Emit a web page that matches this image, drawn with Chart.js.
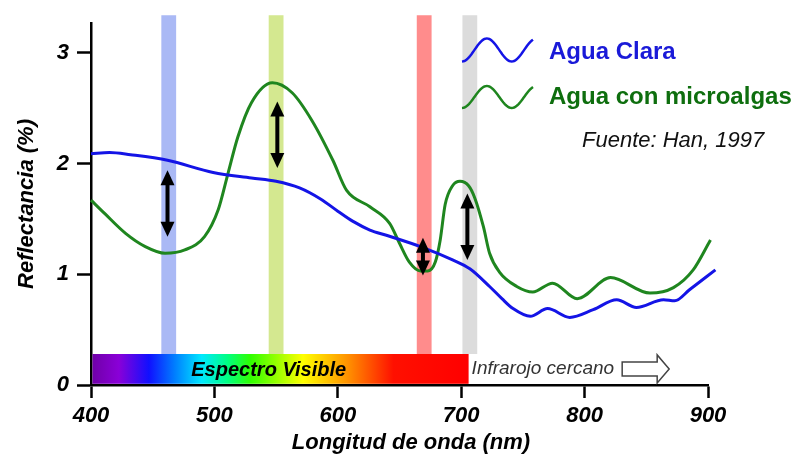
<!DOCTYPE html>
<html>
<head>
<meta charset="utf-8">
<script src="https://cdn.jsdelivr.net/npm/chart.js@4"></script>
<style>
  html, body { margin: 0; padding: 0; background: #fff; }
  #wrap { width: 796px; height: 456px; }
</style>
</head>
<body>
<div id="wrap"><canvas id="chart"></canvas></div>
<script>
/* Reflectancia del agua clara vs. agua con microalgas (Han, 1997) */

const fontFamily = "'Liberation Sans', Arial, Helvetica, sans-serif";

// Agua clara
const claraNm  = [400, 415, 432, 462, 499, 530, 550, 569, 586, 600, 612, 626, 640, 667, 693, 707, 723, 733, 742, 756, 770, 788, 807, 826, 842, 864, 873, 885, 906];
const claraRef = [2.09, 2.10, 2.08, 2.03, 1.92, 1.87, 1.84, 1.78, 1.68, 1.57, 1.48, 1.40, 1.35, 1.25, 1.13, 1.05, 0.89, 0.78, 0.69, 0.62, 0.69, 0.61, 0.68, 0.77, 0.70, 0.77, 0.76, 0.86, 1.04];

// Agua con microalgas
const algasNm  = [400, 411, 428, 444, 460, 476, 492, 503, 511, 519, 530, 547, 563, 579, 596, 607, 626, 642, 650, 658, 667, 673, 679, 683, 687, 693, 699, 706, 711, 718, 723, 731, 745, 758, 774, 794, 821, 853, 872, 888, 902];
const algasRef = [1.67, 1.55, 1.37, 1.25, 1.19, 1.22, 1.34, 1.58, 1.91, 2.24, 2.55, 2.73, 2.64, 2.39, 2.03, 1.76, 1.61, 1.46, 1.28, 1.11, 1.03, 1.03, 1.11, 1.31, 1.63, 1.80, 1.84, 1.80, 1.69, 1.43, 1.19, 1.02, 0.89, 0.84, 0.92, 0.78, 0.97, 0.83, 0.88, 1.04, 1.31];

// bandas (centro en nm)
const bandCenters = [463, 550, 670, 707];
const bandColors  = ['#aab9f5', '#d4e890', '#ff8c8c', '#dcdcdc'];

// flechas dobles: longitud de onda, desde, hasta
const arrowNm   = [462, 551, 669, 705];
const arrowFrom = [1.94, 2.56, 1.33, 1.73];
const arrowTo   = [1.34, 1.96, 0.99, 1.13];

// espectro visible
const visibleRange = [400, 706];

const xTicks = [400, 500, 600, 700, 800, 900];
const yTicks = [0, 1, 2, 3];

const BAND_HALF = 6, BAND_TOP = 3.34, SPEC_TOP = 0.28;

const tickFont = { family: fontFamily, size: 22, weight: 'bold', style: 'italic' };

function font(size, weight, style) {
  return (style || 'normal') + ' ' + (weight || 'normal') + ' ' + size + 'px ' + fontFamily;
}

function arrowHead(ctx, x, y, dir) {
  ctx.beginPath();
  ctx.moveTo(x, y);
  ctx.lineTo(x - 7, y - dir * 15);
  ctx.lineTo(x + 7, y - dir * 15);
  ctx.closePath();
  ctx.fill();
}

function wave(ctx, x0, cy, w, amp, color) {
  ctx.beginPath();
  for (let i = 0; i <= 60; i++) {
    const t = i / 60;
    const px = x0 + w * t, py = cy + amp * Math.cos(t * 2 * Math.PI / 0.7);
    i ? ctx.lineTo(px, py) : ctx.moveTo(px, py);
  }
  ctx.strokeStyle = color;
  ctx.lineWidth = 2.5;
  ctx.stroke();
}

const decor = {
  id: 'decor',
  beforeDatasetsDraw(chart) {
    const { ctx, scales: { x, y } } = chart;
    ctx.save();
    // bandas de color
    bandCenters.forEach((c, i) => {
      const l = x.getPixelForValue(c - BAND_HALF), r = x.getPixelForValue(c + BAND_HALF);
      const t = y.getPixelForValue(BAND_TOP), b = y.getPixelForValue(SPEC_TOP);
      ctx.fillStyle = bandColors[i];
      ctx.fillRect(l, t, r - l, b - t);
    });
    // barra del espectro visible
    const sl = x.getPixelForValue(visibleRange[0]) + 1.5, sr = x.getPixelForValue(visibleRange[1]);
    const st = y.getPixelForValue(SPEC_TOP), sb = y.getPixelForValue(0) - 1.2;
    const g = ctx.createLinearGradient(sl, 0, sr, 0);
    [[0, '#7000a8'], [0.07, '#8a00d8'], [0.15, '#1010ff'], [0.22, '#0080ff'], [0.29, '#00e8ff'],
     [0.36, '#00ff80'], [0.42, '#30ff00'], [0.56, '#ffff00'], [0.68, '#ff9000'], [0.80, '#ff1000'], [1, '#ff0000']]
      .forEach(s => g.addColorStop(s[0], s[1]));
    ctx.fillStyle = g;
    ctx.fillRect(sl, st, sr - sl, sb - st);

    ctx.textBaseline = 'middle';
    ctx.fillStyle = '#000';
    ctx.font = font(20, 'bold', 'italic');
    ctx.textAlign = 'center';
    ctx.fillText('Espectro Visible', x.getPixelForValue(544), (st + sb) / 2 + 2);

    // infrarrojo cercano + flecha hueca
    ctx.font = font(19, 'normal', 'italic');
    ctx.textAlign = 'left';
    ctx.fillStyle = '#333';
    const ix = sr + 3, iy = (st + sb) / 2;
    ctx.fillText('Infrarojo cercano', ix, iy);
    const ax = ix + ctx.measureText('Infrarojo cercano').width + 8;
    ctx.beginPath();
    ctx.moveTo(ax, iy - 7);
    ctx.lineTo(ax + 35, iy - 7);
    ctx.lineTo(ax + 35, iy - 14);
    ctx.lineTo(ax + 47, iy);
    ctx.lineTo(ax + 35, iy + 14);
    ctx.lineTo(ax + 35, iy + 7);
    ctx.lineTo(ax, iy + 7);
    ctx.closePath();
    ctx.fillStyle = '#fff';
    ctx.fill();
    ctx.strokeStyle = '#444';
    ctx.lineWidth = 1.5;
    ctx.stroke();
    ctx.restore();
  },
  afterDatasetsDraw(chart) {
    const { ctx, scales: { x, y } } = chart;
    ctx.save();
    ctx.fillStyle = '#000';
    ctx.strokeStyle = '#000';
    ctx.lineWidth = 4;
    arrowNm.forEach((nm, i) => {
      const px = x.getPixelForValue(nm);
      const y1 = y.getPixelForValue(arrowFrom[i]), y2 = y.getPixelForValue(arrowTo[i]);
      ctx.beginPath();
      ctx.moveTo(px, y1 + 10);
      ctx.lineTo(px, y2 - 10);
      ctx.stroke();
      arrowHead(ctx, px, y1, -1);
      arrowHead(ctx, px, y2, 1);
    });
    ctx.restore();
  },
  afterDraw(chart) {
    const { ctx } = chart;
    ctx.save();
    // leyenda
    wave(ctx, 462, 50, 71, 11.5, '#1414e6');
    wave(ctx, 462, 97, 71, 11, '#1f861f');
    ctx.textBaseline = 'middle';
    ctx.textAlign = 'left';
    ctx.font = font(24, 'bold');
    ctx.fillStyle = '#1a1ad8';
    ctx.fillText('Agua Clara', 549, 52);
    ctx.fillStyle = '#0e6e0e';
    ctx.fillText('Agua con microalgas', 549, 97);
    ctx.font = font(22, 'normal', 'italic');
    ctx.fillStyle = '#111';
    ctx.fillText('Fuente: Han, 1997', 582, 141);
    // título eje x
    ctx.textAlign = 'center';
    ctx.font = font(22, 'bold', 'italic');
    ctx.fillStyle = '#000';
    ctx.fillText('Longitud de onda (nm)', 411, 443);
    ctx.restore();
  }
};

new Chart(document.getElementById('chart'), {
  type: 'line',
  data: {
    datasets: [
      {
        label: 'Agua Clara',
        data: claraNm.map((v, i) => ({ x: v, y: claraRef[i] })),
        borderColor: '#1414e6', borderWidth: 3, pointRadius: 0,
        cubicInterpolationMode: 'monotone', fill: false, clip: false,
      },
      {
        label: 'Agua con microalgas',
        data: algasNm.map((v, i) => ({ x: v, y: algasRef[i] })),
        borderColor: '#1f861f', borderWidth: 3, pointRadius: 0,
        cubicInterpolationMode: 'monotone', fill: false, clip: false,
      },
    ],
  },
  options: {
    responsive: true,
    maintainAspectRatio: false,
    animation: false,
    layout: { padding: { left: 10, top: 23, right: 88, bottom: 0 } },
    plugins: { legend: { display: false }, tooltip: { enabled: false } },
    scales: {
      x: {
        type: 'linear', min: 400, max: 900,
        afterBuildTicks: s => { s.ticks = xTicks.map(v => ({ value: v })); },
        afterFit: s => { s.height = 71; },
        grid: { drawOnChartArea: false, drawTicks: true, tickLength: 13, tickWidth: 2.5, tickColor: '#000' },
        border: { display: true, color: '#000', width: 2.5 },
        ticks: { color: '#000', font: tickFont, padding: 5, maxRotation: 0 },
      },
      y: {
        type: 'linear', min: 0, max: 3.27,
        afterBuildTicks: s => { s.ticks = yTicks.map(v => ({ value: v })); },
        afterFit: s => { s.width = 81; },
        grid: { drawOnChartArea: false, drawTicks: true, tickLength: 14, tickWidth: 2.5, tickColor: '#000' },
        border: { display: true, color: '#000', width: 2.5 },
        ticks: { color: '#000', font: tickFont, padding: 8 },
        title: {
          display: true, text: 'Reflectancia (%)', color: '#000',
          font: { family: fontFamily, size: 22, weight: 'bold', style: 'italic' },
          padding: { top: 4, bottom: 0 },
        },
      },
    },
  },
  plugins: [decor],
});
</script>
</body>
</html>
